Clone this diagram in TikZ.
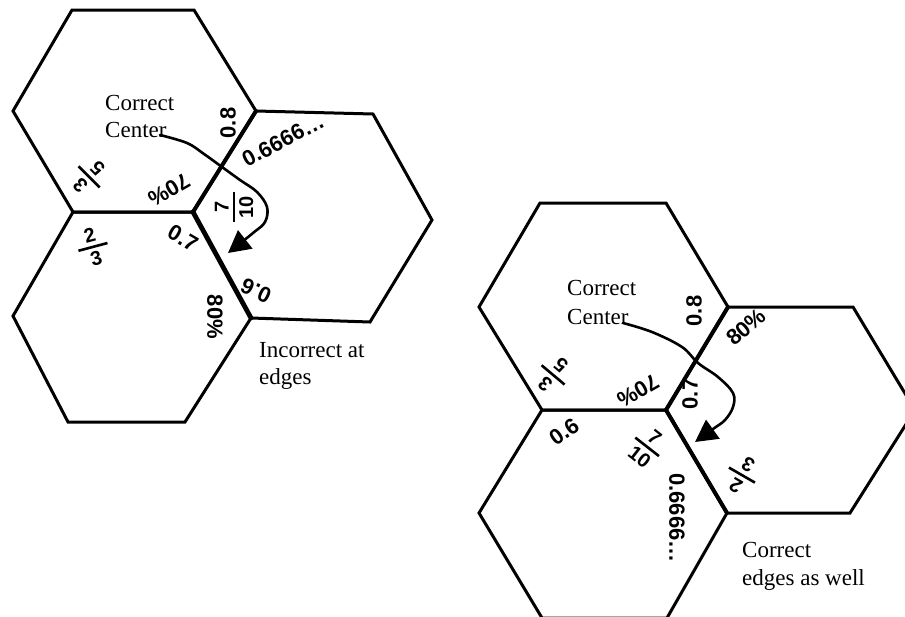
\documentclass[tikz,border=0pt]{standalone}
\usepackage{fontspec}
\setmainfont{Liberation Serif}
\newfontfamily\labelsans{Liberation Sans}
\usetikzlibrary{arrows.meta}

% fonts for edge labels, stacked fractions and notes
\newcommand\cardlabel{\labelsans\bfseries\fontsize{22}{26}\selectfont}
\newcommand\cardfrac{\labelsans\bfseries\fontsize{20}{22}\selectfont}
\newcommand\notefont{\fontsize{23}{27}\selectfont}
% stacked fraction with a heavy bar
\newcommand\stackfrac[2]{\vbox{\offinterlineskip
  \hbox to 30pt{\hss#1\hss}\kern4pt\hrule height 2.6pt\kern4pt
  \hbox to 30pt{\hss#2\hss}}}

\tikzset{
  hexline/.style={line width=3pt},
  seam/.style={line width=4.8pt, line cap=round},
  seamb/.style={line width=4pt, line cap=round},
  lab/.style={font=\cardlabel, inner sep=0pt},
  fra/.style={font=\cardfrac, inner sep=0pt},
  note/.style={font=\notefont, inner sep=0pt, anchor=base west},
  curl/.style={line width=2.6pt, line cap=round, line join=round,
    -{Triangle[length=22pt,width=23pt]}}
}

\begin{document}
\begin{tikzpicture}[x=1pt,y=-1pt]
\useasboundingbox (0,0) rectangle (905,616);
\clip (0,0) rectangle (905,616);

% ---------- left arrangement ----------
\coordinate (a1) at (72,10);
\coordinate (a2) at (194,10);
\coordinate (a3) at (256,111);
\coordinate (j)  at (193,212);
\coordinate (a5) at (73,212);
\coordinate (a6) at (13,111);
\coordinate (b3) at (13,316);
\coordinate (b4) at (68,422);
\coordinate (b5) at (185,422);
\coordinate (k)  at (251,318);
\coordinate (c2) at (373,114);
\coordinate (c3) at (432,220);
\coordinate (c4) at (370,322);

\draw[hexline] (a1) -- (a2) -- (a3) -- (j) -- (a5) -- (a6) -- cycle;
\draw[hexline] (a5) -- (j) -- (k) -- (b5) -- (b4) -- (b3) -- cycle;
\draw[hexline] (a3) -- (c2) -- (c3) -- (c4) -- (k) -- (j) -- cycle;
\draw[seamb] (j) -- (a3);
\draw[seam] (j) -- (k);

\node[lab, rotate=90]  (l08)  at (228,123) {0.8};
\node[lab, rotate=28]  (l066) at (283,140) {0.6666…};
\node[fra, rotate=135] (l35)  at (89,177)  {\stackfrac{3}{5}};
\node[lab, rotate=210] (l70)  at (169,190) {70\%};
\node[fra, rotate=90]  (l710) at (234,207) {\stackfrac{7}{10}};
\node[fra, rotate=15]  (l23)  at (93,247)  {\stackfrac{2}{3}};
\node[lab, rotate=-30] (l07)  at (183,238) {0.7};
\node[lab, rotate=155] (l06)  at (256,291) {0.6};
\node[lab, rotate=-90] (l80)  at (215,317) {80\%};

\node[note] (lc1) at (105,110) {Correct};
\node[note] (lc2) at (105,137) {Center};
\node[note] (li1) at (259,357) {Incorrect at};
\node[note] (li2) at (259,384) {edges};

\draw[curl] plot[smooth, tension=0.6] coordinates {(160,135) (187,143) (204,154)
  (222,167) (240,180) (257,192) (267,207) (265,222) (253,233) (228,253)};

% ---------- right arrangement ----------
\coordinate (p1) at (540,203);
\coordinate (p2) at (666,203);
\coordinate (p3) at (728,307);
\coordinate (q)  at (666,410);
\coordinate (p5) at (542,410);
\coordinate (p6) at (479,307);
\coordinate (r2) at (853,307);
\coordinate (r3) at (915,410);
\coordinate (r4) at (850,513);
\coordinate (s)  at (727,513);
\coordinate (t4) at (667,618);
\coordinate (t5) at (542,618);
\coordinate (t6) at (479,513);

\draw[hexline] (p1) -- (p2) -- (p3) -- (q) -- (p5) -- (p6) -- cycle;
\draw[hexline] (p3) -- (r2) -- (r3) -- (r4) -- (s) -- (q) -- cycle;
\draw[hexline] (p5) -- (q) -- (s) -- (t4) -- (t5) -- (t6) -- cycle;
\draw[seamb] (q) -- (p3);
\draw[seamb] (q) -- (s);

\node[lab, rotate=90]  (r08)  at (694,311) {0.8};
\node[lab, rotate=40]  (r80)  at (746,327) {80\%};
\node[fra, rotate=140] (r35)  at (553,375) {\stackfrac{3}{5}};
\node[lab, rotate=210] (r70)  at (638,391) {70\%};
\node[lab, rotate=90]  (r07)  at (690,394) {0.7};
\node[lab, rotate=35]  (r06)  at (564,432) {0.6};
\node[fra, rotate=-38] (r710) at (647,447) {\stackfrac{7}{10}};
\node[lab, rotate=-90] (r066) at (677,518) {0.6666…};
\node[fra, rotate=150] (r23)  at (742,475) {\stackfrac{2}{3}};

\node[note] (rc1) at (567,295) {Correct};
\node[note] (rc2) at (567,324) {Center};
\node[note] (re1) at (742,557) {Correct};
\node[note] (re2) at (742,585) {edges as well};

\draw[curl] plot[smooth, tension=0.6] coordinates {(623,323) (652,332) (682,347)
  (698,363) (718,377) (733,393) (733,407) (725,420) (713,429) (695,442)};
\end{tikzpicture}
\end{document}
